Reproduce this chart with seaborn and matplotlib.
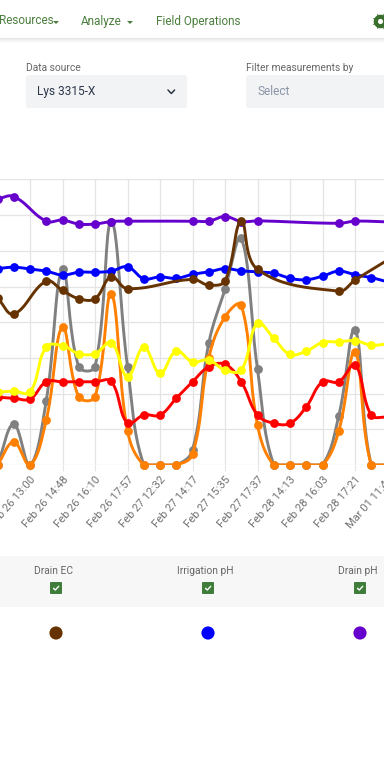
import numpy as np
import matplotlib.pyplot as plt
from matplotlib.patches import FancyBboxPatch, Rectangle
import seaborn as sns

nan = np.nan

# readings, one per time slot (gaps are slots with no measurement)
tick_slots = [2, 4, 6, 8, 10, 12, 14, 16, 18, 20, 22, 24]
tick_labels = ['Feb 26 13:00', 'Feb 26 14:48', 'Feb 26 16:10', 'Feb 26 17:57', 'Feb 27 12:32', 'Feb 27 14:17',
               'Feb 27 15:35', 'Feb 27 17:37', 'Feb 28 14:13', 'Feb 28 16:03', 'Feb 28 17:21', 'Mar 01 11:45']

gray_vals = [0, 1.14, 0, 1.80, 5.48, 2.75, 2.75, 6.82, 2.75, 0, 0, 0, 0.42, 3.41, 4.92, 6.35, 2.68,
             0, 0, 0, 0, 1.37, 3.78, 0, 0]
orange_vals = [0, 0.64, 0, 1.26, 3.86, 1.91, 1.91, 4.79, 0.96, 0, 0, 0, 0.30, 3.00, 4.15, 4.48, 1.12,
               0, 0, 0, 0, 0.95, 3.17, 0, 0]
red_vals = [1.90, 1.87, 1.85, 2.33, 2.33, 2.33, 2.33, 2.34, 1.17, 1.40, 1.40, 1.87, 2.33, 2.75, 2.82, 2.33, 1.40,
            1.17, 1.17, 1.63, 2.33, 2.33, 2.80, 1.40, 1.34]
yellow_vals = [2.04, 2.07, 2.04, 3.31, 3.34, 3.12, 3.12, 3.43, 2.47, 3.30, 2.57, 3.19, 2.89, 2.94, 2.66, 2.66, 3.97,
               3.55, 3.10, 3.19, 3.43, 3.45, 3.48, 3.36, 3.39]
blue_vals = [5.50, 5.54, 5.49, 5.43, 5.32, 5.40, 5.40, 5.43, 5.55, 5.22, 5.27, 5.23, 5.34, 5.41, 5.50, 5.44, 5.41,
             5.37, 5.23, 5.19, 5.29, 5.43, 5.33, 5.25, 5.13]
purple_vals = [7.45, 7.52, nan, 6.83, 6.86, 6.75, 6.75, 6.82, 6.83, nan, nan, nan, 6.83, 6.83, 6.96, 6.82, 6.84,
               nan, nan, nan, nan, 6.77, 6.83, nan, 6.81]
brown_vals = [4.68, 4.23, nan, 5.15, 4.89, 4.66, 4.66, 5.27, 4.94, nan, nan, nan, 5.20, 5.04, 5.16, 6.83, 5.48,
              nan, nan, nan, nan, 4.87, 5.18, nan, 5.74]

series = [(gray_vals, '#808080'), (orange_vals, '#ff8000'), (red_vals, '#ff0000'), (yellow_vals, '#ffff00'),
          (blue_vals, '#0000ff'), (purple_vals, '#6600cc'), (brown_vals, '#663300')]

legend_names = ['Drain EC', 'Irrigation pH', 'Drain pH']
legend_colors = ['#663300', '#0000ff', '#6600cc']
legend_x = [56, 208, 360]

SLOT_PX = 16.25
UNIT_PX = 35.7


# same curve shape as a tension 0.4 spline, only for drawing the line
def smooth_line(xs, ys, tension=0.4, steps=24):
    px = np.array(xs) * SLOT_PX
    py = np.array(ys) * UNIT_PX
    n = len(px)
    before, after = [], []
    for i in range(n):
        a, c = max(i - 1, 0), min(i + 1, n - 1)
        d01 = np.hypot(px[i] - px[a], py[i] - py[a])
        d12 = np.hypot(px[c] - px[i], py[c] - py[i])
        total = d01 + d12
        s01 = d01 / total if total else 0
        s12 = d12 / total if total else 0
        dx, dy = px[c] - px[a], py[c] - py[a]
        before.append((px[i] - tension * s01 * dx, py[i] - tension * s01 * dy))
        after.append((px[i] + tension * s12 * dx, py[i] + tension * s12 * dy))
    out_x, out_y = [], []
    for i in range(n - 1):
        t = np.linspace(0, 1, steps)
        out_x.extend((1 - t) ** 3 * px[i] + 3 * (1 - t) ** 2 * t * after[i][0]
                     + 3 * (1 - t) * t ** 2 * before[i + 1][0] + t ** 3 * px[i + 1])
        out_y.extend((1 - t) ** 3 * py[i] + 3 * (1 - t) ** 2 * t * after[i][1]
                     + 3 * (1 - t) * t ** 2 * before[i + 1][1] + t ** 3 * py[i + 1])
    return np.array(out_x) / SLOT_PX, np.clip(np.array(out_y) / UNIT_PX, 0, None)


sns.set_theme(style='whitegrid')
plt.rcParams['font.family'] = ['Roboto', 'DejaVu Sans']

fig = plt.figure(figsize=(3.84, 7.68), dpi=100)
fig.patch.set_facecolor('white')

# page furniture, in screen pixels
ui = fig.add_axes([0, 0, 1, 1], zorder=0)
ui.set_xlim(0, 384)
ui.set_ylim(768, 0)
ui.axis('off')

for i, alpha in enumerate([0.10, 0.07, 0.05, 0.03, 0.015]):
    ui.add_patch(Rectangle((0, 38 + i), 384, 1, fc='black', alpha=alpha, lw=0))

green = '#4b7f3f'
ui.text(-1, 21, 'Resources', color=green, fontsize=8.5, va='center')
ui.text(81, 21, 'Analyze', color=green, fontsize=8.5, va='center')
ui.text(156, 21, 'Field Operations', color=green, fontsize=8.5, va='center')
for cx in [56, 130]:
    ui.fill([cx - 3, cx + 3, cx], [21, 21, 24], color=green, lw=0)
# gear icon
ui.scatter([380], [21], marker=(8, 1, 22.5), s=150, color='#3a6e2c', lw=0)
ui.scatter([380], [21], marker='o', s=95, color='#3a6e2c', lw=0)
ui.scatter([380], [21], marker='o', s=14, color='white', lw=0)

ui.text(26, 68, 'Data source', color='#666666', fontsize=7.4, va='center')
ui.text(246, 68, 'Filter measurements by', color='#666666', fontsize=7.4, va='center')
for x0, w in [(26, 161), (246, 170)]:
    ui.add_patch(FancyBboxPatch((x0 + 3, 78), w - 6, 27, boxstyle='round,pad=3', fc='#f1f3f5', ec='none'))
ui.text(37, 91.5, 'Lys 3315-X', color='#2d3748', fontsize=8.6, va='center')
ui.text(257, 91.5, 'Select', color='#8a94a6', fontsize=8.6, va='center')
ui.plot([168, 171.3, 174.6], [90, 93.5, 90], color='#2d3748', lw=1.1)

ui.add_patch(Rectangle((0, 556), 384, 51, fc='#f7f7f7', lw=0))
for name, col, x in zip(legend_names, legend_colors, legend_x):
    ui.text(x - 2.5, 571, name, color='#666666', fontsize=7.4, ha='center', va='center')
    ui.add_patch(FancyBboxPatch((x - 5, 583), 10, 10, boxstyle='round,pad=1', fc='#3f7d3a', ec='none'))
    ui.plot([x - 2.5, x - 0.7, x + 2.7], [588.3, 590, 586.3], color='white', lw=1)
sns.scatterplot(x=legend_x, y=[633] * 3, hue=legend_names, palette=dict(zip(legend_names, legend_colors)),
                s=90, linewidth=0, legend=False, ax=ui)

# chart, slot 2 sits at x=30px and value 0 at y=465px
left_px = 30 + (-0.5 - 2) * SLOT_PX
right_px = 30 + (24.5 - 2) * SLOT_PX
ax = fig.add_axes([left_px / 384, (768 - 465) / 768, (right_px - left_px) / 384, 8 * UNIT_PX / 768], zorder=1)
ax.patch.set_alpha(0)

for z, (vals, col) in enumerate(series):
    slots = np.arange(len(vals))
    vals = np.array(vals, dtype=float)
    keep = ~np.isnan(vals)
    cx, cy = smooth_line(slots[keep], vals[keep])
    sns.lineplot(x=cx, y=cy, color=col, lw=2.1, sort=False, estimator=None, ax=ax, zorder=3 + z)
    sns.scatterplot(x=slots[keep], y=vals[keep], color=col, s=40, linewidth=0, ax=ax, zorder=3 + z, clip_on=False)

ax.set_xlim(-0.5, 24.5)
ax.set_ylim(0, 8)
ax.set_yticks(range(9))
ax.set_yticklabels([])
ax.set_xticks(tick_slots)
ax.set_xticklabels(tick_labels, rotation=49, ha='right', rotation_mode='anchor', color='#707070', fontsize=8.0)
ax.tick_params(axis='x', length=4.5, width=0.8, color='#e4e4e4', pad=2.5, bottom=True)
ax.tick_params(axis='y', length=0)
ax.grid(color='#e4e4e4', lw=0.9)
ax.set_axisbelow(True)
ax.set_xlabel('')
ax.set_ylabel('')
sns.despine(ax=ax, left=True, bottom=True)

fig.savefig('out.png', dpi=100)
